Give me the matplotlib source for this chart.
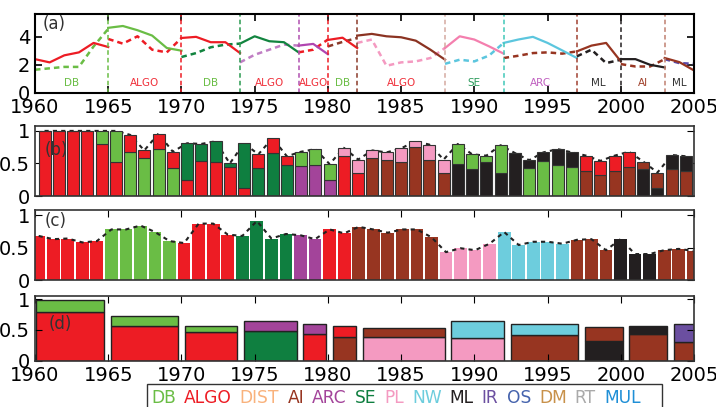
import matplotlib.pyplot as plt
from matplotlib.offsetbox import TextArea, HPacker, AnchoredOffsetbox
from matplotlib.patches import Rectangle
import numpy as np

# method colours
colors = {'DB': '#6abd45', 'ALGO': '#ed1c24', 'DIST': '#f9b27c', 'AI': '#973521',
          'ARC': '#a3449a', 'SE': '#0f7f40', 'PL': '#f49ac1', 'NW': '#6dcddd',
          'ML': '#231f20', 'IR': '#6b4fa0', 'OS': '#4563ad', 'DM': '#c8914a',
          'RT': '#aaaaaa', 'MUL': '#1f8fd6'}
legend_names = ['DB', 'ALGO', 'DIST', 'AI', 'ARC', 'SE', 'PL', 'NW', 'ML', 'IR', 'OS', 'DM', 'RT', 'MUL']

# periods (shared by panels a and d)
seg_start = [1960, 1965, 1970, 1974, 1978, 1980, 1982, 1988, 1992, 1997, 2000, 2003]
seg_end = [1965, 1970, 1974, 1978, 1980, 1982, 1988, 1992, 1997, 2000, 2003, 2005]
seg_label = ['DB', 'ALGO', 'DB', 'ALGO', 'ALGO', 'DB', 'ALGO', 'SE', 'ARC', 'ML', 'AI', 'ML']

# panel (a): solid and dashed series per period
solid_vals = [[2.4, 2.17, 2.67, 2.88, 3.55, 3.26],
              [4.62, 4.75, 4.45, 4.07, 3.19, 3.0],
              [3.9, 3.98, 3.6, 3.6, 2.83],
              [3.5, 4.02, 3.67, 3.6, 2.88],
              [3.36, 3.48, 2.75],
              [3.76, 3.92, 3.19],
              [4.07, 4.19, 4.02, 3.95, 3.71, 3.07, 2.36],
              [3.19, 4.02, 3.79, 3.31, 2.79],
              [3.55, 3.79, 3.98, 3.55, 3.02, 2.48],
              [2.95, 3.36, 3.55, 2.24],
              [2.4, 2.4, 2.0, 1.81],
              [2.48, 2.19, 1.6]]
dashed_vals = [[1.65, 1.75, 1.85, 1.85, 3.3, 4.55],
               [3.83, 3.5, 4.02, 3.07, 2.88, 3.9],
               [2.55, 2.83, 3.24, 3.43, 3.5],
               [2.17, 2.71, 3.07, 3.43, 3.36],
               [2.88, 3.07, 3.79],
               [3.3, 3.62, 3.9],
               [3.55, 3.79, 1.93, 2.17, 2.24, 2.48, 3.19],
               [2.07, 2.36, 2.24, 2.65, 3.55],
               [2.48, 2.64, 2.83, 2.88, 2.79, 2.95],
               [2.6, 3.07, 2.12, 2.36],
               [2.05, 1.88, 1.88, 2.4],
               [2.4, 2.12, 2.07]]
solid_col = ['#ed1c24', '#6abd45', '#ed1c24', '#12843f', '#b045b0', '#ed1c24',
             '#8b3322', '#f47fae', '#5cc6de', '#973521', '#231f20', '#973521']
dashed_col = ['#6abd45', '#ed1c24', '#12843f', '#c07ec4', '#ed1c24', '#8b3a2a',
              '#f49ac1', '#5cc6de', '#973521', '#231f20', '#973521', '#5a4aa8']
vline_col = ['#6abd45', '#ed1c24', '#2a9a50', '#b050b0', '#ed1c24', '#8b3a2a',
             '#d4aaa0', '#40c8b8', '#a04030', '#231f20', '#c08070']
label_col = {'DB': '#6abd45', 'ALGO': '#f0303a', 'SE': '#2a9a5a', 'ARC': '#c060c0',
             'ML': '#333333', 'AI': '#a0402a'}

# panel (b): stacked shares, 1960-2005
b_low = [1.0, 1.0, 1.0, 1.0, 0.80, 0.52, 0.68, 0.58, 0.72, 0.43,
         0.24, 0.54, 0.52, 0.45, 0.12, 0.43, 0.66, 0.47, 0.46, 0.48,
         0.24, 0.62, 0.36, 0.58, 0.55, 0.52, 0.75, 0.56, 0.36, 0.49,
         0.42, 0.52, 0.36, 0.66, 0.43, 0.54, 0.48, 0.45, 0.38, 0.32,
         0.39, 0.45, 0.42, 0.12, 0.42, 0.38]
b_total = [1.0, 1.0, 1.0, 1.0, 1.0, 1.0, 0.94, 0.70, 0.96, 0.68,
           0.81, 0.80, 0.84, 0.50, 0.81, 0.64, 0.89, 0.61, 0.68, 0.72,
           0.49, 0.74, 0.56, 0.70, 0.67, 0.73, 0.84, 0.79, 0.56, 0.80,
           0.64, 0.62, 0.78, 0.66, 0.55, 0.67, 0.72, 0.67, 0.62, 0.54,
           0.62, 0.68, 0.53, 0.36, 0.63, 0.61]
b_low_m = ['ALGO'] * 6 + ['DB'] * 4 + ['ALGO'] * 5 + ['SE'] * 3 + ['ARC'] * 3 + ['ALGO'] * 2 + \
          ['AI'] * 6 + ['ML'] * 5 + ['DB'] * 4 + ['AI'] * 4 + ['ML'] * 2 + ['AI'] * 2
b_top_m = ['ALGO'] * 4 + ['DB'] * 2 + ['ALGO'] * 4 + ['SE'] * 5 + ['ALGO'] * 3 + ['DB'] * 3 + ['PL'] * 2 + \
          ['PL'] * 6 + ['DB'] * 4 + ['ML'] * 5 + ['ALGO'] * 4 + ['AI'] * 2 + ['ML'] * 2

# panel (c): single share per year
c_vals = [0.68, 0.63, 0.64, 0.58, 0.60, 0.78, 0.78, 0.84, 0.74, 0.60,
          0.57, 0.87, 0.87, 0.70, 0.68, 0.91, 0.64, 0.71, 0.69, 0.63,
          0.78, 0.72, 0.82, 0.78, 0.73, 0.78, 0.78, 0.66, 0.43, 0.49,
          0.46, 0.56, 0.74, 0.54, 0.59, 0.59, 0.56, 0.62, 0.63, 0.46,
          0.63, 0.40, 0.40, 0.46, 0.48, 0.45]
c_m = ['ALGO'] * 5 + ['DB'] * 5 + ['ALGO'] * 4 + ['SE'] * 4 + ['ARC'] * 2 + ['ALGO'] * 2 + \
      ['AI'] * 6 + ['PL'] * 4 + ['NW'] * 5 + ['AI'] * 3 + ['ML'] * 3 + ['AI'] * 3

# panel (d): stacked shares per period
d_low = [0.79, 0.57, 0.46, 0.49, 0.44, 0.38, 0.39, 0.37, 0.41, 0.32, 0.43, 0.31]
d_total = [0.98, 0.73, 0.57, 0.65, 0.59, 0.56, 0.53, 0.64, 0.59, 0.55, 0.57, 0.60]
d_low_m = ['ALGO', 'ALGO', 'ALGO', 'SE', 'ALGO', 'AI', 'PL', 'PL', 'AI', 'ML', 'AI', 'AI']
d_top_m = ['DB', 'DB', 'DB', 'ARC', 'ARC', 'ALGO', 'AI', 'NW', 'NW', 'AI', 'ML', 'IR']

fig = plt.figure(figsize=(7.16, 4.07), dpi=100)
H = 407.0


def box(top, bot):
    return [35 / 716, 1 - bot / H, 659 / 716, (bot - top) / H]


axa = fig.add_axes(box(14, 93))
axb = fig.add_axes(box(125.7, 196))
axc = fig.add_axes(box(210, 280))
axd = fig.add_axes(box(296, 360.7))
years5 = np.arange(1960, 2006, 5)

# (a)
for i in range(len(seg_start)):
    yrs = np.arange(seg_start[i], seg_end[i] + 1)
    axa.plot(yrs, dashed_vals[i], '--', color=dashed_col[i], lw=1.8, dashes=(2.2, 1.6))
    axa.plot(yrs, solid_vals[i], '-', color=solid_col[i], lw=1.6)
    axa.text((seg_start[i] + seg_end[i]) / 2, 0.72, seg_label[i], color=label_col[seg_label[i]],
             fontsize=7.5, ha='center', va='center')
for s, c in zip(seg_start[1:], vline_col):
    axa.axvline(s, color=c, ls='--', lw=1.1, dashes=(3, 2))
axa.set_xlim(1960, 2005)
axa.set_ylim(0, 5.6)
axa.set_xticks(years5)
axa.set_yticks([0, 2, 4])
axa.tick_params(direction='in', top=True, right=True, labelsize=14, length=5, width=1.2)
axa.text(0.012, 0.99, '(a)', transform=axa.transAxes, fontsize=12, va='top', color='#333')
for sp in axa.spines.values():
    sp.set_linewidth(1.5)

# (b)
xb = np.linspace(1960.65, 2004.45, 46)
low = np.array(b_low)
tot = np.array(b_total)
axb.plot(xb, tot, '--', color='#222', lw=1.5, dashes=(2, 2), zorder=1.5)
axb.bar(xb, low, 0.82, color=[colors[m] for m in b_low_m], edgecolor='#333', lw=0.8, zorder=2)
axb.bar(xb, tot - low, 0.82, bottom=low, color=[colors[m] for m in b_top_m],
        edgecolor='#333', lw=0.8, zorder=2)
axb.set_xlim(1960, 2005)
axb.set_ylim(0, 1.08)
axb.set_xticks([])
axb.set_yticks([0, 0.5, 1])
axb.set_yticklabels(['0', '0.5', '1'])
axb.tick_params(direction='in', right=True, labelsize=14, length=5)
axb.text(0.015, 0.65, '(b)', transform=axb.transAxes, fontsize=12, va='center', color='#333', zorder=5)

# (c)
xc = np.linspace(1960.25, 2004.95, 46)
axc.bar(xc, c_vals, 0.87, color=[colors[m] for m in c_m], zorder=2)
axc.plot(xc, c_vals, '--', color='#222', lw=1.5, dashes=(2, 2), zorder=3)
axc.set_xlim(1960, 2005)
axc.set_ylim(0, 1.08)
axc.set_xticks(years5)
axc.set_yticks([0, 0.5, 1])
axc.set_yticklabels(['0', '0.5', '1'])
axc.tick_params(direction='in', top=True, bottom=False, labelbottom=False, right=True,
                labelsize=14, length=5)
axc.text(0.015, 0.84, '(c)', transform=axc.transAxes, fontsize=12, va='center', color='#333', zorder=5)

# (d)
st = np.array(seg_start)
en = np.array(seg_end)
left = 1960 + (st - 1960) * 1.012 + 0.1
right = 1960 + (en - 1960) * 1.012 - 0.35
dl = np.array(d_low)
dt = np.array(d_total)
axd.bar(left, dl, right - left, align='edge', color=[colors[m] for m in d_low_m],
        edgecolor='#222', lw=1)
axd.bar(left, dt - dl, right - left, bottom=dl, align='edge', color=[colors[m] for m in d_top_m],
        edgecolor='#222', lw=1)
axd.set_xlim(1960, 2005)
axd.set_ylim(0, 1.05)
axd.set_xticks(years5)
axd.set_yticks([0, 0.5, 1])
axd.set_yticklabels(['0', '0.5', '1'])
axd.tick_params(direction='in', top=True, right=True, labelsize=14, length=5)
axd.text(0.02, 0.56, '(d)', transform=axd.transAxes, fontsize=12, va='center', color='#333')

for ax in [axb, axc, axd]:
    for sp in ax.spines.values():
        sp.set_linewidth(1.2)
        sp.set_color('#333')

# legend row of coloured names
areas = [TextArea(n, textprops=dict(color=colors[n], fontsize=12.3)) for n in legend_names]
pack = HPacker(children=areas, align='baseline', pad=0, sep=5.8)
ab = AnchoredOffsetbox(loc='center left', child=pack, bbox_to_anchor=(151 / 716, 1 - 398 / H),
                       bbox_transform=fig.transFigure, frameon=False, borderpad=0, pad=0)
fig.add_artist(ab)
fig.add_artist(Rectangle((147 / 716, -0.05), (662 - 147) / 716, 0.05 + 1 - 384 / H,
                         transform=fig.transFigure, fill=False, ec='#333', lw=1))

plt.savefig('out.png', dpi=100)
